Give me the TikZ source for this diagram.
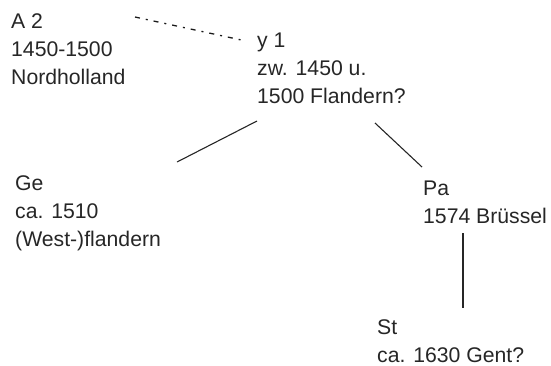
\documentclass[tikz,border=0pt]{standalone}
\usepackage{fontspec}
\setmainfont{Liberation Sans}
\begin{document}
\begin{tikzpicture}[x=1pt,y=-1pt,
  lbl/.style={font=\fontsize{21.2}{28}\selectfont, align=left, anchor=base west, inner sep=0pt, text=black!85},
  conn/.style={draw=black!85, line width=1.1pt},
  dashconn/.style={draw=black!90, line width=1.3pt, dash pattern=on 5pt off 6pt on 2pt off 6pt}]
\useasboundingbox (0,0) rectangle (551,365);
% base anchor = baseline of the last line
\node[lbl] (a2) at (11,84) {A 2\\1450-1500\\Nordholland};
\node[lbl] (y1) at (257,103) {y 1\\zw. 1450 u.\\1500 Flandern?};
\node[lbl] (ge) at (15,246) {Ge\\ca. 1510\\(West-)flandern};
\node[lbl] (pa) at (423,223) {Pa\\1574 Brüssel};
\node[lbl] (st) at (377,362) {St\\ca. 1630 Gent?};
\coordinate (a2e) at (135,17);
\coordinate (y1w) at (246,41);
\coordinate (y1l) at (257,121);
\coordinate (gen) at (177,162);
\coordinate (y1r) at (375,123);
\coordinate (pan) at (422,167);
\coordinate (pas) at (463,233);
\coordinate (stn) at (463,308);
\draw[dashconn] (a2e) -- (y1w);
\draw[conn] (y1l) -- (gen);
\draw[conn] (y1r) -- (pan);
\draw[conn] (pas) -- (stn);
\end{tikzpicture}
\end{document}
